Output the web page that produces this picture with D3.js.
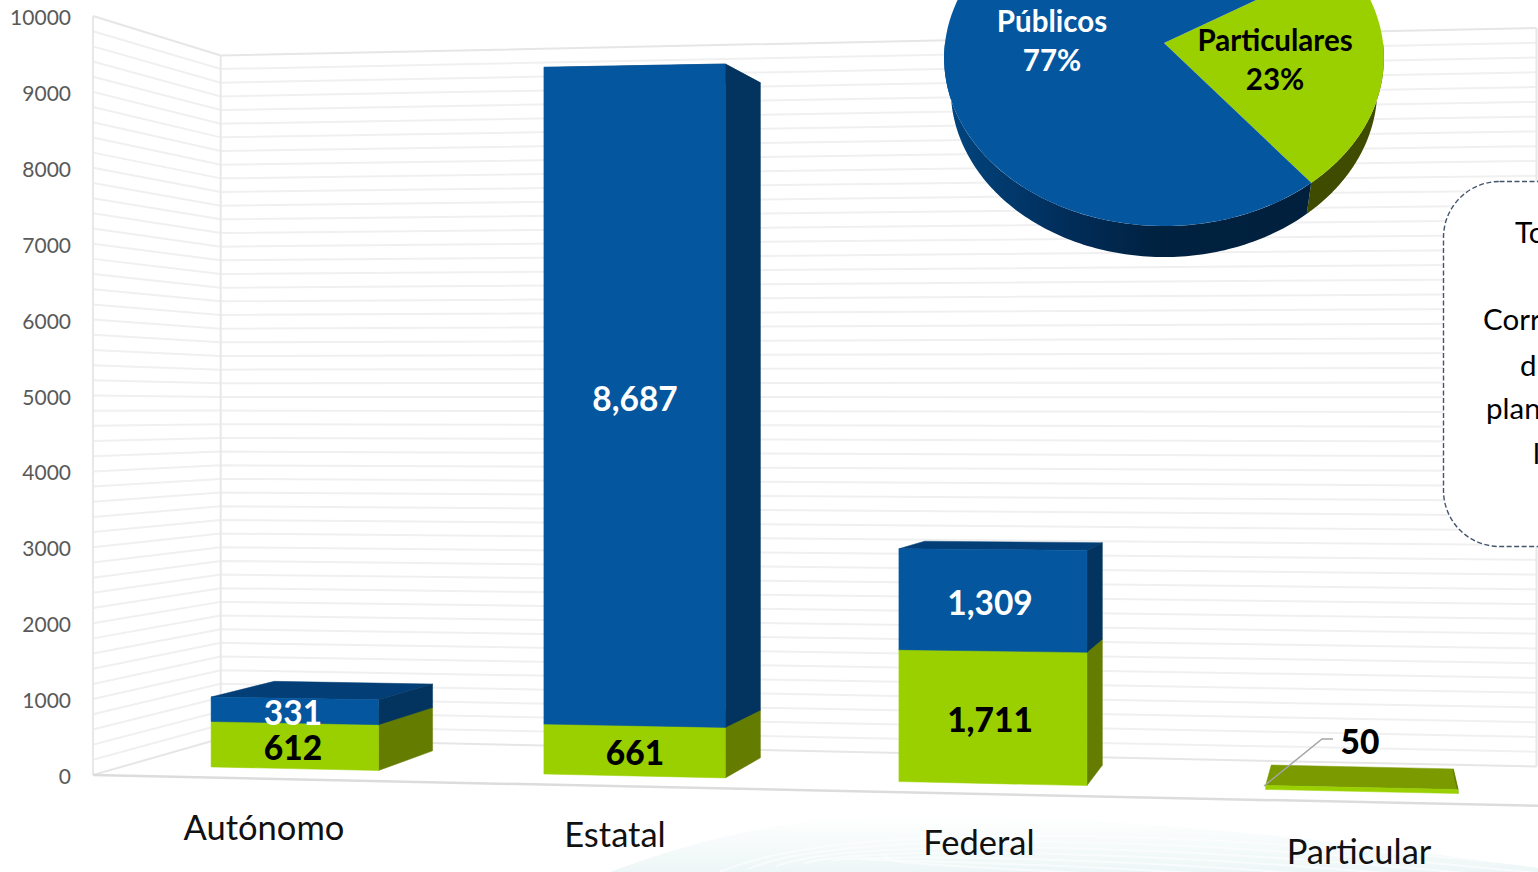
<!DOCTYPE html>
<html><head><meta charset="utf-8">
<script src="https://cdn.jsdelivr.net/npm/d3@7"></script>
<style>html,body{margin:0;padding:0;background:#fff;overflow:hidden}svg{display:block;font-family:Lato,"Open Sans",sans-serif}</style>
</head><body><svg id="c" width="1538" height="872"></svg>
<script>
const categories = ["Autónomo","Estatal","Federal","Particular"];
const particulares = [612,661,1711,50];
const publicos = [331,8687,1309,0];
const particularesLabels = ["612","661","1,711","50"];
const publicosLabels = ["331","8,687","1,309",""];
const yTicks = [0,1000,2000,3000,4000,5000,6000,7000,8000,9000,10000];
const gridValues = d3.range(0,10001,200);
const pieNames = ["Particulares","Públicos"];
const pieValues = [23,77];
const noteFragments = ["To","Corr","d","plan","l"];

const svg = d3.select("#c");
const BLUE="#04569f",BLUE_SIDE="#03345f",BLUE_TOP="#033f76",GREEN="#9bd000",GREEN_SIDE="#647c00",GREEN_TOP="#7a9a00";

// perspective box
const VP=[1370,410], KBOX=0.1;
const W=[93,1555];
const uScale=d3.scalePow().exponent(1.07).domain([0,4]).range([107,1554]);
const vScale=d3.scaleLinear().domain([0,10000]).range([0,1]);
const floorY=d3.scaleLinear().domain(W).range([775,806.2]);
const ceilY=d3.scaleLinear().domain(W).range([16,-14.4]);
function P(xf,v,w){
  const yf=d3.interpolateNumber(floorY(xf),ceilY(xf))(vScale(v));
  const k=KBOX*w;
  return [xf+k*(VP[0]-xf), yf+k*(VP[1]-yf)];
}
const line=d3.line();
function poly(g,pts,fill){return g.append("path").attr("d",line(pts)+"Z").attr("fill",fill).attr("stroke",fill).attr("stroke-width",0.5);}

// watermark
const defs=svg.append("defs");
const wm=defs.append("linearGradient").attr("id","wm").attr("x1",0).attr("y1",0).attr("x2",0).attr("y2",1);
wm.append("stop").attr("offset",0).attr("stop-color","#ffffff");
wm.append("stop").attr("offset",1).attr("stop-color","#edf6f6");
svg.append("path").attr("d","M610,872 C680,845 780,818 880,816 C1080,812 1300,835 1538,868 L1538,872 Z").attr("fill","url(#wm)");
[0,7,14,21,28,35,42].forEach(o=>{
  svg.append("path").attr("fill","none").attr("stroke","#ffffff").attr("stroke-opacity",0.55).attr("stroke-width",2)
    .attr("d",`M${720+o*4},${872-o*0.4} C${820+o},${828+o} ${1100},${822+o} 1538,${866+o}`);
});

// walls
const gridG=svg.append("g").attr("fill","none");
gridValues.forEach(v=>{
  const a=P(W[0],v,0),b=P(W[0],v,1),c=P(W[1],v,1);
  const edge=v===0||v===10000;
  gridG.append("path").attr("d",line([a,b,c])).attr("stroke",edge?"#e6e6e6":"#f0f0f0").attr("stroke-width",2);
});
[[P(W[0],0,0),P(W[0],10000,0)],[P(W[0],0,1),P(W[0],10000,1)],[P(W[1],0,1),P(W[1],10000,1)]].forEach(s=>{
  gridG.append("path").attr("d",line(s)).attr("stroke","#e8e8e8").attr("stroke-width",2);
});
gridG.append("path").attr("d",line([P(W[0],0,0),P(W[1],0,0)])).attr("stroke","#dcdcdc").attr("stroke-width",2.5);

// axis labels
svg.append("g").selectAll("text").data(yTicks).join("text")
  .attr("x",71).attr("y",d=>P(W[0],d,0)[1]+9).attr("text-anchor","end")
  .attr("font-size",21).attr("fill","#595959").text(d=>d);

// bars
const W0=0.27,W1=0.8,HALF=0.258;
const barsG=svg.append("g");
categories.forEach((c,i)=>{
  const xl=uScale(i+0.5-HALF),xr=uScale(i+0.5+HALF);
  const stacks=[[0,particulares[i],GREEN,GREEN_SIDE,GREEN_TOP],[particulares[i],particulares[i]+publicos[i],BLUE,BLUE_SIDE,BLUE_TOP]];
  stacks.forEach(([a,b,f,s,t])=>{
    if(b<=a) return;
    poly(barsG,[P(xl,b,W0),P(xr,b,W0),P(xr,b,W1),P(xl,b,W1)],t);
    poly(barsG,[P(xr,a,W0),P(xr,b,W0),P(xr,b,W1),P(xr,a,W1)],s);
    poly(barsG,[P(xl,a,W0),P(xr,a,W0),P(xr,b,W0),P(xl,b,W0)],f);
  });
});

// value labels
const labelX=[293,635,990,1360];
const greenLabelY=[759,764,731,753];
const blueLabelY=[724,410,614];
svg.append("g").selectAll("text").data(particularesLabels).join("text")
  .attr("x",(d,i)=>labelX[i]).attr("y",(d,i)=>greenLabelY[i]+1).attr("text-anchor","middle")
  .attr("font-size",33.5).attr("font-weight",900).attr("fill","#000").text(d=>d);
svg.append("g").selectAll("text").data(publicosLabels).join("text")
  .attr("x",(d,i)=>labelX[i]).attr("y",(d,i)=>(blueLabelY[i]||0)+1).attr("text-anchor","middle")
  .attr("font-size",33.5).attr("font-weight",700).attr("fill","#fff").text(d=>d);
// leader
svg.append("path").attr("fill","none").attr("stroke","#a6a6a6").attr("stroke-width",1.5)
  .attr("d",line([[1264,786],[1322,739],[1333,739]]));

// category labels
const catX=[264,615,979,1359],catY=[840,847,855,864];
svg.append("g").selectAll("text").data(categories).join("text")
  .attr("x",(d,i)=>catX[i]).attr("y",(d,i)=>catY[i]).attr("text-anchor","middle")
  .attr("font-size",34.5).attr("fill","#111").text(d=>d);

// pie, tilted in perspective: the far half is foreshortened
const CX=1164,CY=43,RX=219,RY=166.7,TILT=0.0893,SHRINK=0.97,DROP=31;
function pt(a){
  const X=Math.sin(a),Y=-Math.cos(a),D=1-TILT*Y;
  return [CX+RX*X/D,CY+RY*Y/D];
}
function samples(a0,a1){return d3.range(0,121).map(i=>a0+(a1-a0)*i/120);}
const sideBlue=defs.append("linearGradient").attr("id","sb");
sideBlue.append("stop").attr("offset",0).attr("stop-color","#02457f");
sideBlue.append("stop").attr("offset",0.35).attr("stop-color","#012c58");
sideBlue.append("stop").attr("offset",0.6).attr("stop-color","#00213f");
sideBlue.append("stop").attr("offset",1).attr("stop-color","#00203e");
const START=58.5*Math.PI/180;
const arcs=d3.pie().sort(null).value(d=>d).startAngle(START).endAngle(START+2*Math.PI)(pieValues);
const pieG=svg.append("g");
function band(a0,a1,fill){
  const s=samples(a0,a1);
  const top=s.map(pt);
  const bot=s.map(a=>{const p=pt(a);return [CX+(p[0]-CX)*SHRINK,p[1]+DROP];}).reverse();
  pieG.append("path").attr("d",line(top.concat(bot))+"Z").attr("fill",fill);
}
const split=arcs[0].endAngle;
band(Math.PI/2,split,"#3f4c00");
band(split,3*Math.PI/2,"url(#sb)");
pieG.selectAll("path.slice").data(arcs).join("path").attr("class","slice")
  .attr("d",d=>line([[CX,CY]].concat(samples(d.startAngle,d.endAngle).map(pt)))+"Z")
  .attr("fill",(d,i)=>i===0?GREEN:BLUE);
const pieLabelX=[1275,1052],pieLabelY=[[51,90],[32,71]],pieCol=["#000","#fff"];
pieNames.forEach((n,i)=>{
  [n,pieValues[i]+"%"].forEach((s,j)=>{
    svg.append("text").attr("x",pieLabelX[i]).attr("y",pieLabelY[i][j]).attr("text-anchor","middle")
      .attr("font-size",29.5).attr("font-weight",700).attr("fill",pieCol[i]).text(s);
  });
});

// note box
svg.append("rect").attr("x",1443.5).attr("y",181.5).attr("width",200).attr("height",365).attr("rx",56).attr("ry",56)
  .attr("fill","#fff").attr("stroke","#44546a").attr("stroke-width",1.4).attr("stroke-dasharray","5 2.5");
const noteX=[1515,1483,1520,1486,1533],noteY=[243,330,376,419,464];
svg.append("g").selectAll("text").data(noteFragments).join("text")
  .attr("x",(d,i)=>noteX[i]).attr("y",(d,i)=>noteY[i]).attr("font-size",29.5).attr("fill","#000").text(d=>d);
</script></body></html>
